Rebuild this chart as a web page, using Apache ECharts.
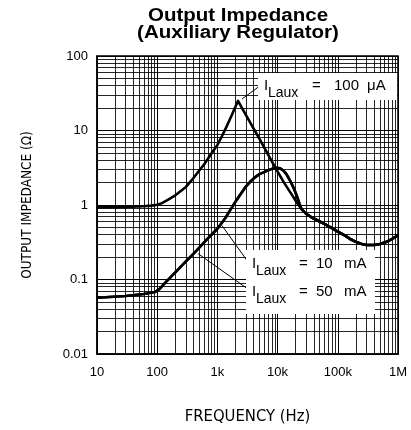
<!DOCTYPE html>
<html><head><meta charset="utf-8">
<script src="https://cdn.jsdelivr.net/npm/echarts@6/dist/echarts.min.js"></script>
<style>html,body{margin:0;padding:0;background:#fff}#c{width:411px;height:430px}</style>
</head><body><div id="c"></div>
<script>
// ---- data ----
const freq100uA = [10, 30, 60, 80, 100, 120, 150, 200, 250, 300, 400, 500, 600, 700, 850, 1000, 1200, 1400, 1700, 2000, 2200, 3000, 5000, 9100, 13000, 17000, 21000, 25000, 30000, 37000, 50000, 62000, 80000, 100000, 130000, 160000, 200000, 250000, 300000, 400000, 500000, 650000, 800000, 1000000];
const z100uA    = [0.93, 0.94, 0.96, 0.98, 1.01, 1.06, 1.17, 1.35, 1.55, 1.75, 2.3, 2.9, 3.5, 4.2, 5.3, 6.4, 8.5, 11, 15.5, 21, 25, 16, 7.7, 3.2, 1.95, 1.4, 1.07, 0.88, 0.76, 0.68, 0.6, 0.55, 0.49, 0.44, 0.39, 0.35, 0.32, 0.3, 0.29, 0.29, 0.3, 0.32, 0.35, 0.39];
const freq10mA  = [10, 30, 60, 92, 110, 135, 200, 300, 430, 700, 1000, 1340, 1700, 2100, 2500, 2900, 3500, 4200, 5000, 6500, 8000, 9500, 11000, 12500, 14000, 15500, 17000, 19000, 21000, 23000, 25000, 30000, 37000, 50000, 62000, 80000, 100000, 130000, 160000, 200000, 250000, 300000, 400000, 500000, 650000, 800000, 1000000];
const z10mA     = [0.057, 0.06, 0.064, 0.068, 0.075, 0.09, 0.125, 0.175, 0.235, 0.36, 0.48, 0.66, 0.9, 1.18, 1.45, 1.72, 2.05, 2.35, 2.6, 2.85, 3.05, 3.15, 3.1, 2.9, 2.6, 2.25, 1.95, 1.6, 1.3, 1.05, 0.88, 0.76, 0.68, 0.6, 0.55, 0.49, 0.44, 0.39, 0.35, 0.32, 0.3, 0.29, 0.29, 0.3, 0.32, 0.35, 0.39];
const freq50mA  = [10, 30, 60, 92, 110, 135, 200, 300, 430, 700, 1000, 1340, 1700, 2100, 2500, 2900, 3500, 4200, 5000, 6500, 8000, 9500, 11000, 12500, 14000, 15500, 17000, 19000, 21000, 23000, 25000, 30000, 37000, 50000, 62000, 80000, 100000, 130000, 160000, 200000, 250000, 300000, 400000, 500000, 650000, 800000, 1000000];
const z50mA     = [0.057, 0.06, 0.064, 0.068, 0.075, 0.09, 0.125, 0.175, 0.235, 0.36, 0.48, 0.66, 0.9, 1.18, 1.45, 1.72, 2.05, 2.35, 2.6, 2.85, 3.05, 3.15, 3.1, 2.9, 2.6, 2.25, 1.95, 1.6, 1.3, 1.05, 0.88, 0.76, 0.68, 0.6, 0.55, 0.49, 0.44, 0.39, 0.35, 0.32, 0.3, 0.29, 0.29, 0.3, 0.32, 0.35, 0.39];
const xTickLabels = ['10', '100', '1k', '10k', '100k', '1M'];
const yTickLabels = ['0.01', '0.1', '1', '10', '100'];
const seriesNames = ['ILaux = 100 µA', 'ILaux = 10 mA', 'ILaux = 50 mA'];

// ---- build ----
const pairs = (xs, ys) => xs.map((x, i) => [x, ys[i]]);
const minorX = [], minorY = [];
for (let d = 10; d < 1e6; d *= 10) for (let m = 2; m <= 9; m++) minorX.push({xAxis: d * m});
for (let d = 0.01; d < 99; d *= 10) for (let m = 2; m <= 9; m++) minorY.push({yAxis: +(d * m).toPrecision(3)});

const FONT = '"Liberation Sans", Arial, sans-serif';
const NARROW = '"Liberation Sans Narrow", "DejaVu Sans Condensed", sans-serif';
const curveStyle = {color: '#000', width: 2.6, join: 'round'};
const t = (x, y, text, size) => ({type: 'text', z: 30, x: x, y: y,
  style: {text: text, font: size + 'px ' + FONT, fill: '#000', verticalAlign: 'bottom'}});

const chart = echarts.init(document.getElementById('c'), null, {renderer: 'canvas'});
chart.setOption({
  animation: false,
  backgroundColor: '#fff',
  grid: {left: 97, right: 13, top: 56, bottom: 75, show: true, borderColor: '#000', borderWidth: 1.5},
  xAxis: {
    type: 'log', logBase: 10, min: 10, max: 1e6,
    name: 'FREQUENCY (Hz)', nameLocation: 'middle', nameGap: 54,
    nameTextStyle: {fontFamily: NARROW, fontSize: 16.5, color: '#000'},
    axisLine: {show: true, lineStyle: {color: '#000', width: 1.5}},
    axisTick: {show: false},
    axisLabel: {margin: 12, fontFamily: FONT, fontSize: 13, color: '#000',
      formatter: v => xTickLabels[Math.round(Math.log10(v)) - 1]},
    splitLine: {show: true, lineStyle: {color: '#000', width: 1}}
  },
  yAxis: {
    type: 'log', logBase: 10, min: 0.01, max: 100,
    name: 'OUTPUT IMPEDANCE (Ω)', nameLocation: 'middle', nameGap: 63, nameRotate: 90,
    nameTextStyle: {fontFamily: NARROW, fontSize: 13.5, color: '#000'},
    axisLine: {show: true, lineStyle: {color: '#000', width: 1.5}},
    axisTick: {show: false},
    axisLabel: {margin: 9, fontFamily: FONT, fontSize: 13, color: '#000',
      formatter: v => yTickLabels[Math.round(Math.log10(v)) + 2]},
    splitLine: {show: true, lineStyle: {color: '#000', width: 1}}
  },
  series: [
    {name: 'minor', type: 'line', z: 1, data: [], silent: true,
      markLine: {silent: true, symbol: 'none', label: {show: false}, animation: false,
        lineStyle: {color: '#000', width: 1, type: 'solid', opacity: 0.85},
        data: minorX.concat(minorY)}},
    {name: seriesNames[0], type: 'line', z: 3, smooth: false, showSymbol: false, lineStyle: curveStyle,
      data: pairs(freq100uA, z100uA)},
    {name: seriesNames[1], type: 'line', z: 3, smooth: false, showSymbol: false, lineStyle: curveStyle,
      data: pairs(freq10mA, z10mA)},
    {name: seriesNames[2], type: 'line', z: 3, smooth: false, showSymbol: false, lineStyle: curveStyle,
      data: pairs(freq50mA, z50mA)},
    {name: 'arrows', type: 'line', z: 20, data: [], silent: true,
      markLine: {silent: true, symbol: ['none', 'arrow'], symbolSize: [0, 9], label: {show: false}, animation: false,
        lineStyle: {color: '#000', width: 1, type: 'solid'},
        data: [
          [{coord: [5940, 43.5]}, {coord: [2565, 26.5]}],
          [{coord: [3100, 0.18]}, {coord: [1190, 0.53]}],
          [{coord: [3100, 0.076]}, {coord: [476, 0.223]}]
        ]}}
  ],
  graphic: [
    {type: 'text', z: 50, x: 238, y: 8, scaleX: 1.14,
      style: {text: 'Output Impedance\n(Auxiliary Regulator)', font: 'bold 18px ' + FONT, fill: '#000', align: 'center', lineHeight: 17}},
    {type: 'rect', z: 10, shape: {x: 258, y: 73, width: 139, height: 27}, style: {fill: '#fff'}},
    {type: 'rect', z: 10, shape: {x: 246, y: 250, width: 129, height: 64}, style: {fill: '#fff'}},
    // 100 µA label
    t(264, 93, 'I', 15), t(268, 100, 'Laux', 14), t(312, 93, '=', 15), t(334, 93, '100', 15), t(367, 93, 'μA', 15),
    // 10 mA label
    t(252, 271, 'I', 15), t(256, 278, 'Laux', 14), t(299, 271, '=', 15), t(316, 271, '10', 15), t(344, 271, 'mA', 15),
    // 50 mA label
    t(252, 299, 'I', 15), t(256, 306, 'Laux', 14), t(299, 299, '=', 15), t(316, 299, '50', 15), t(344, 299, 'mA', 15)
  ]
});
</script></body></html>
